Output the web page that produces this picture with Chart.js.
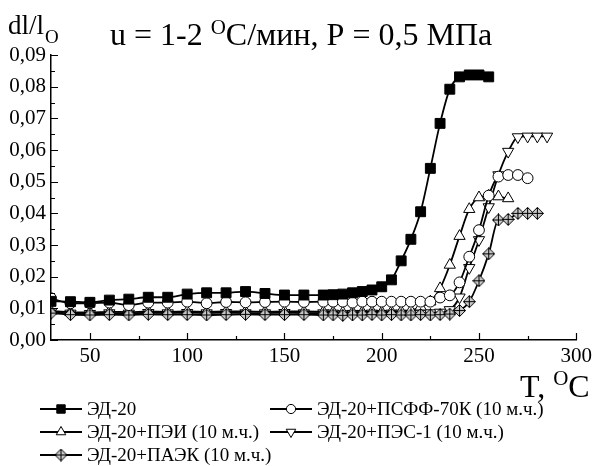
<!DOCTYPE html>
<html>
<head>
<meta charset="utf-8">
<script src="https://cdn.jsdelivr.net/npm/chart.js@4.4.0/dist/chart.umd.min.js"></script>
<style>
  html, body { margin: 0; padding: 0; background: #fff; }
  #chart { display: block; }
</style>
</head>
<body>
<canvas id="chart" width="596" height="466"></canvas>
<script>
// temperatures (°C) and dl/l0 values
const tempED20 = [30,40,50,60,70,80,90,100,110,120,130,140,150,160,170,175,180,185,190,195,200,205,210,215,220,225,230,235,240,245,250,255];
const valED20  = [0.0122,0.0121,0.0119,0.0126,0.0129,0.0135,0.0135,0.0145,0.0149,0.0149,0.0153,0.0147,0.0142,0.0142,0.0142,
                  0.0143,0.0145,0.0149,0.0153,0.0158,0.0168,0.0190,0.0250,0.0318,0.0405,0.0542,0.0684,0.0792,0.0831,0.0837,0.0837,0.0831];

const tempPSFF = [30,40,50,60,70,80,90,100,110,120,130,140,150,160,170,175,180,185,190,195,200,205,210,215,220,225,230,235,240,245,250,255,260,265,270,275];
const valPSFF  = [0.0132,0.0116,0.0116,0.0118,0.0110,0.0118,0.0118,0.0121,0.0116,0.0120,0.0119,0.0120,0.0121,0.0120,0.0121,
                  0.0121,0.0121,0.0118,0.0121,0.0121,0.0121,0.0121,0.0121,0.0121,0.0121,0.0121,0.0134,0.0141,0.0182,0.0263,0.0347,0.0456,0.0516,0.0521,0.0521,0.0511];

const tempPEI = [30,40,50,60,70,80,90,100,110,120,130,140,150,160,170,175,180,185,190,195,200,205,210,215,220,225,230,235,240,245,250,255,260,265];
const valPEI  = [0.0092,0.0088,0.0087,0.0089,0.0088,0.0090,0.0089,0.0090,0.0089,0.0090,0.0090,0.0089,0.0090,0.0090,0.0089,
                 0.0088,0.0087,0.0088,0.0088,0.0089,0.0088,0.0089,0.0090,0.0093,0.0105,0.0121,0.0163,0.0237,0.0328,0.0413,0.0450,0.0455,0.0453,0.0447];

const tempPES = [30,40,50,60,70,80,90,100,110,120,130,140,150,160,170,175,180,185,190,195,200,205,210,215,220,225,230,235,240,245,250,255,260,265,270,275,280,285];
const valPES  = [0.0088,0.0084,0.0083,0.0085,0.0084,0.0086,0.0085,0.0086,0.0085,0.0086,0.0085,0.0085,0.0086,0.0085,0.0085,
                 0.0084,0.0082,0.0083,0.0083,0.0084,0.0083,0.0084,0.0084,0.0083,0.0084,0.0085,0.0087,0.0095,0.0135,0.0228,0.0316,0.0420,0.0521,0.0595,0.0641,0.0643,0.0643,0.0643];

const tempPAEK = [30,40,50,60,70,80,90,100,110,120,130,140,150,160,170,175,180,185,190,195,200,205,210,215,220,225,230,235,240,245,250,255,260,265,270,275,280];
const valPAEK  = [0.0085,0.0080,0.0079,0.0080,0.0079,0.0081,0.0080,0.0080,0.0079,0.0080,0.0081,0.0080,0.0080,0.0080,0.0079,
                  0.0079,0.0078,0.0079,0.0079,0.0080,0.0079,0.0080,0.0079,0.0079,0.0080,0.0079,0.0080,0.0082,0.0093,0.0121,0.0187,0.0272,0.0379,0.0381,0.0400,0.0400,0.0400];

const seriesNames = ['ЭД-20', 'ЭД-20+ПСФФ-70К (10 м.ч.)', 'ЭД-20+ПЭИ (10 м.ч.)', 'ЭД-20+ПЭС-1 (10 м.ч.)', 'ЭД-20+ПАЭК (10 м.ч.)'];

const xMajor = [50, 100, 150, 200, 250, 300];
const xMinor = [75, 125, 175, 225, 275];
const yMajor = [0, 0.01, 0.02, 0.03, 0.04, 0.05, 0.06, 0.07, 0.08, 0.09];
const yMinor = [0.005, 0.015, 0.025, 0.035, 0.045, 0.055, 0.065, 0.075, 0.085];

const FONT = '"Liberation Serif", "Times New Roman", serif';

// diamond with a cross, for the ПАЭК series
function makeDiamond() {
    const c = document.createElement('canvas');
    c.width = 13; c.height = 13;
    const g = c.getContext('2d');
    g.beginPath();
    g.moveTo(6.5, 0.5); g.lineTo(12.5, 6.5); g.lineTo(6.5, 12.5); g.lineTo(0.5, 6.5); g.closePath();
    g.fillStyle = '#c8c8c8';
    g.fill();
    g.strokeStyle = '#000';
    g.lineWidth = 1;
    g.stroke();
    g.beginPath();
    g.moveTo(6.5, 0.5); g.lineTo(6.5, 12.5);
    g.moveTo(0.5, 6.5); g.lineTo(12.5, 6.5);
    g.stroke();
    return c;
}
const diamondImg = makeDiamond();

function pts(xs, ys) {
    return xs.map((x, i) => ({ x: x, y: ys[i] }));
}

function series(label, data, style, fill, radius, rotation, order) {
    return {
        label: label,
        data: data,
        borderColor: '#000',
        borderWidth: 1.8,
        pointStyle: style,
        pointRotation: rotation,
        pointRadius: radius,
        pointBackgroundColor: fill,
        pointBorderColor: '#000',
        pointBorderWidth: 1,
        cubicInterpolationMode: 'monotone',
        fill: false,
        order: order
    };
}

const datasets = [
    series(seriesNames[0], pts(tempED20, valED20), 'rect', '#000', 7, 0, 0),
    series(seriesNames[1], pts(tempPSFF, valPSFF), 'circle', '#fff', 5.4, 0, 1),
    series(seriesNames[2], pts(tempPEI, valPEI), 'triangle', '#fff', 6.5, 0, 3),
    series(seriesNames[3], pts(tempPES, valPES), 'triangle', '#fff', 6.5, 180, 4),
    series(seriesNames[4], pts(tempPAEK, valPAEK), diamondImg, '#fff', 6.5, 0, 2)
];

// legend slots: [x of line start, text baseline y]
const legendSlots = [[40, 415], [270, 415], [40, 438], [270, 438], [40, 461]];

const decor = {
    id: 'decor',
    afterDraw(chart) {
        const ctx = chart.ctx;
        const xs = chart.scales.x, ys = chart.scales.y;
        ctx.save();

        // inward tick marks
        ctx.strokeStyle = '#000';
        ctx.lineWidth = 1.2;
        ctx.beginPath();
        xMajor.forEach(v => { const p = Math.round(xs.getPixelForValue(v)) + 0.5; ctx.moveTo(p, ys.bottom); ctx.lineTo(p, ys.bottom - 7); });
        xMinor.forEach(v => { const p = Math.round(xs.getPixelForValue(v)) + 0.5; ctx.moveTo(p, ys.bottom); ctx.lineTo(p, ys.bottom - 4); });
        yMajor.forEach(v => { const p = Math.round(ys.getPixelForValue(v)) + 0.5; ctx.moveTo(xs.left, p); ctx.lineTo(xs.left + 7, p); });
        yMinor.forEach(v => { const p = Math.round(ys.getPixelForValue(v)) + 0.5; ctx.moveTo(xs.left, p); ctx.lineTo(xs.left + 4, p); });
        ctx.stroke();

        ctx.fillStyle = '#000';
        ctx.textBaseline = 'alphabetic';
        ctx.textAlign = 'left';

        // y axis title: dl/l with subscript o
        ctx.font = '27px ' + FONT;
        ctx.fillText('dl/l', 8, 34);
        let w = ctx.measureText('dl/l').width;
        ctx.font = '19px ' + FONT;
        ctx.fillText('O', 8 + w + 1, 43);

        // chart title
        let x = 110;
        ctx.font = '32px ' + FONT;
        ctx.fillText('u = 1-2 ', x, 45);
        x += ctx.measureText('u = 1-2 ').width;
        ctx.font = '21px ' + FONT;
        ctx.fillText('O', x, 34);
        x += ctx.measureText('O').width;
        ctx.font = '32px ' + FONT;
        ctx.fillText('C/мин, P = 0,5 МПа', x, 45);

        // x axis title
        x = 520;
        ctx.font = '32px ' + FONT;
        ctx.fillText('T, ', x, 397);
        x += ctx.measureText('T, ').width;
        ctx.font = '21px ' + FONT;
        ctx.fillText('O', x, 385);
        x += ctx.measureText('O').width;
        ctx.font = '32px ' + FONT;
        ctx.fillText('C', x, 397);

        // legend
        ctx.font = '19px ' + FONT;
        chart.data.datasets.forEach((ds, i) => {
            const [lx, ly] = legendSlots[i];
            const cy = ly - 6;
            ctx.strokeStyle = '#000';
            ctx.lineWidth = 1.8;
            ctx.beginPath();
            ctx.moveTo(lx, cy); ctx.lineTo(lx + 42, cy);
            ctx.stroke();
            ctx.fillStyle = ds.pointBackgroundColor;
            ctx.lineWidth = 1;
            Chart.helpers.drawPoint(ctx, {
                pointStyle: ds.pointStyle,
                rotation: ds.pointRotation,
                radius: ds.pointRadius * 0.85,
                borderWidth: 1
            }, lx + 21, cy);
            ctx.fillStyle = '#000';
            ctx.fillText(ds.label, lx + 47, ly);
        });
        ctx.restore();
    }
};

function draw() {
    new Chart(document.getElementById('chart').getContext('2d'), {
        type: 'line',
        data: { datasets: datasets },
        options: {
            responsive: false,
            animation: false,
            devicePixelRatio: 1,
            layout: { padding: { top: 55, right: 19, left: 0, bottom: 0 } },
            plugins: { legend: { display: false }, tooltip: { enabled: false } },
            scales: {
                x: {
                    type: 'linear',
                    min: 30,
                    max: 300,
                    afterFit(s) { s.height = 126; },
                    afterBuildTicks(s) { s.ticks = xMajor.map(v => ({ value: v })); },
                    ticks: { color: '#000', font: { family: FONT, size: 21 }, padding: 4, maxRotation: 0 },
                    grid: { display: false, drawTicks: false },
                    border: { color: '#000', width: 1.5 }
                },
                y: {
                    min: 0,
                    max: 0.09,
                    afterFit(s) { s.width = 51; },
                    afterBuildTicks(s) { s.ticks = yMajor.map(v => ({ value: v })); },
                    ticks: {
                        color: '#000',
                        font: { family: FONT, size: 21 },
                        padding: 5,
                        callback: v => v.toFixed(2).replace('.', ',')
                    },
                    grid: { display: false, drawTicks: false },
                    border: { color: '#000', width: 1.5 }
                }
            }
        },
        plugins: [decor]
    });
}

document.fonts.load('20px "Liberation Serif"', 'ЭД0,9u').then(draw, draw);
</script>
</body>
</html>
